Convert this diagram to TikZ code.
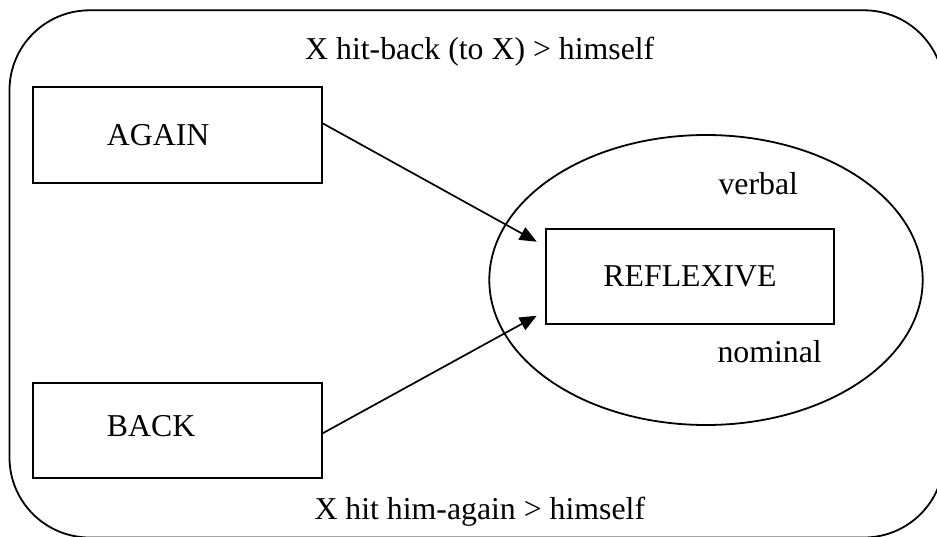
\documentclass[tikz,border=0pt]{standalone}
\usepackage{fontspec}
\setmainfont{Liberation Serif}
\usetikzlibrary{arrows.meta,shapes.geometric}

\tikzset{
  frame/.style={draw, line width=1.8pt, rounded corners=80pt},
  wordbox/.style={draw, line width=1.9pt, rectangle, inner sep=0pt},
  ovalarea/.style={draw, line width=1.8pt, ellipse, inner sep=0pt},
  lbl/.style={inner sep=0pt, font=\fontsize{31.8}{38}\selectfont},
  link/.style={line width=1.7pt, -{Triangle[length=17pt,width=14pt]}}
}

\begin{document}
\begin{tikzpicture}[x=1pt, y=-1pt]
  \useasboundingbox (0,0) rectangle (937,536);

  % outer rounded frame, partly running off the page on the right and bottom
  \begin{scope}
    \clip (0,0) rectangle (937,536);
    \draw[frame] (9.5,10.3) rectangle (944,537.5);
  \end{scope}

  % the two source boxes
  \node[wordbox, minimum width=288.4pt, minimum height=95.4pt] (again) at (177.5,135.0) {};
  \node[lbl, anchor=base west] (againlbl) at (106.7,145.7) {AGAIN};

  \node[wordbox, minimum width=288.4pt, minimum height=95.0pt] (back) at (177.5,430.8) {};
  \node[lbl, anchor=base west] (backlbl) at (106.7,436.7) {BACK};

  % the ellipse holding the target box
  \node[ovalarea, minimum width=433.4pt, minimum height=290pt] (oval) at (706,280) {};
  \node[wordbox, lbl, minimum width=288.6pt, minimum height=95.3pt] (refl) at (690,276.3) {REFLEXIVE};

  \node[lbl, anchor=base west] (verbal) at (718.3,194.0) {verbal};
  \node[lbl, anchor=base west] (nominal) at (717.3,362.7) {nominal};

  % captions along the top and bottom of the frame
  \node[lbl, anchor=base west] (toptext) at (305.0,59.3) {X hit-back (to X) > himself};
  \node[lbl, anchor=base west] (bottext) at (314.3,519.3) {X hit him-again > himself};

  % connectors
  \draw[link] ([yshift=11.7pt]again.east) -- ([xshift=-8pt,yshift=34.6pt]refl.west);
  \draw[link] ([yshift=-2.5pt]back.east) -- ([xshift=-8pt,yshift=-39.4pt]refl.west);
\end{tikzpicture}
\end{document}
